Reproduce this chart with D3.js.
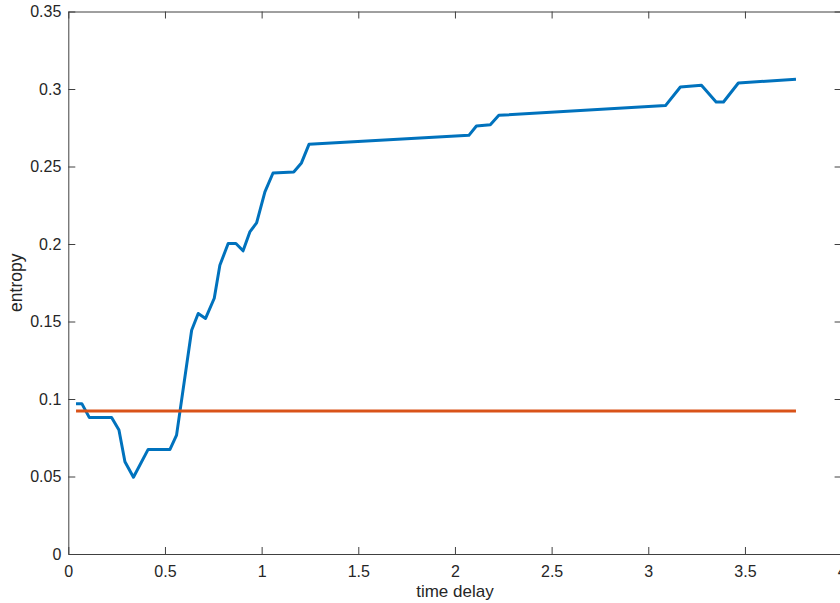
<!DOCTYPE html>
<html>
<head>
<meta charset="utf-8">
<script src="https://cdn.jsdelivr.net/npm/d3@7"></script>
<style>
  html, body { margin: 0; padding: 0; background: #fff; }
  svg { display: block; }
  text { font-family: "Liberation Sans", Arial, Helvetica, sans-serif; fill: #262626; }
</style>
</head>
<body>
<script>
// ---- data ----
const delayX = [0.04, 0.07, 0.109, 0.224, 0.262, 0.293, 0.337, 0.413, 0.526, 0.560,
  0.638, 0.672, 0.710, 0.755, 0.784, 0.827, 0.867, 0.904, 0.939, 0.974,
  1.017, 1.059, 1.166, 1.206, 1.245, 2.072, 2.111, 2.183, 2.227, 3.089,
  3.166, 3.275, 3.351, 3.389, 3.466, 3.764];
const entropyY = [0.097, 0.097, 0.088, 0.088, 0.080, 0.0595, 0.0495, 0.0675, 0.0675, 0.0767,
  0.1444, 0.1552, 0.152, 0.165, 0.1863, 0.2003, 0.2003, 0.1956, 0.2078, 0.2136,
  0.2336, 0.2458, 0.2465, 0.2523, 0.2643, 0.2701, 0.2761, 0.2770, 0.2830, 0.2893,
  0.3013, 0.3024, 0.2916, 0.2916, 0.3039, 0.3063];
const refX = [0.04, 3.764];
const refY = [0.0922, 0.0922];
const xTicks = [0, 0.5, 1, 1.5, 2, 2.5, 3, 3.5, 4];
const yTicks = [0, 0.05, 0.1, 0.15, 0.2, 0.25, 0.3, 0.35];
const xLabel = "time delay";
const yLabel = "entropy";

// ---- chart ----
const W = 840, H = 603;
const mLeft = 68.3, mRight = 841.6, mTop = 11.5, mBottom = 554;
const svg = d3.select("body").append("svg").attr("width", W).attr("height", H);
svg.append("rect").attr("width", W).attr("height", H).attr("fill", "#fff");

const x = d3.scaleLinear().domain([0, 4]).range([mLeft, mRight]);
const y = d3.scaleLinear().domain([0, 0.35]).range([mBottom, mTop]);

const axColor = "#404040";
const fs = "16px";
function styleAxis(g) {
  g.selectAll("path.domain").attr("stroke", axColor).attr("stroke-width", 1);
  g.selectAll(".tick line").attr("stroke", axColor).attr("stroke-width", 1);
  g.selectAll(".tick text").style("font-size", fs).attr("fill", "#262626")
    .style("font-family", '"Liberation Sans", Arial, sans-serif');
}

svg.append("g").attr("transform", `translate(0,${mBottom})`)
  .call(d3.axisBottom(x).tickValues(xTicks).tickFormat(d3.format("")).tickSizeInner(-7).tickSizeOuter(0).tickPadding(12))
  .call(styleAxis);
svg.append("g").attr("transform", `translate(0,${mTop})`)
  .call(d3.axisTop(x).tickValues(xTicks).tickFormat("").tickSizeInner(-7).tickSizeOuter(0))
  .call(styleAxis);
svg.append("g").attr("transform", `translate(${mLeft},0)`)
  .call(d3.axisLeft(y).tickValues(yTicks).tickFormat(d3.format("")).tickSizeInner(-7).tickSizeOuter(0).tickPadding(7))
  .call(styleAxis);
svg.append("g").attr("transform", `translate(${mRight},0)`)
  .call(d3.axisRight(y).tickValues(yTicks).tickFormat("").tickSizeInner(-7).tickSizeOuter(0))
  .call(styleAxis);

const line = d3.line().x(d => x(d[0])).y(d => y(d[1]));
svg.append("path").datum(delayX.map((d, i) => [d, entropyY[i]]))
  .attr("d", line).attr("fill", "none").attr("stroke", "#0072BD")
  .attr("stroke-width", 3).attr("stroke-linejoin", "round");
svg.append("path").datum(refX.map((d, i) => [d, refY[i]]))
  .attr("d", line).attr("fill", "none").attr("stroke", "#D95319")
  .attr("stroke-width", 3);

svg.append("text").attr("x", (mLeft + mRight) / 2).attr("y", 597)
  .attr("text-anchor", "middle").style("font-size", "17px").text(xLabel);
svg.append("text").attr("transform", `translate(21.5,${(mTop + mBottom) / 2}) rotate(-90)`)
  .attr("text-anchor", "middle").style("font-size", "17.5px").text(yLabel);
</script>
</body>
</html>
